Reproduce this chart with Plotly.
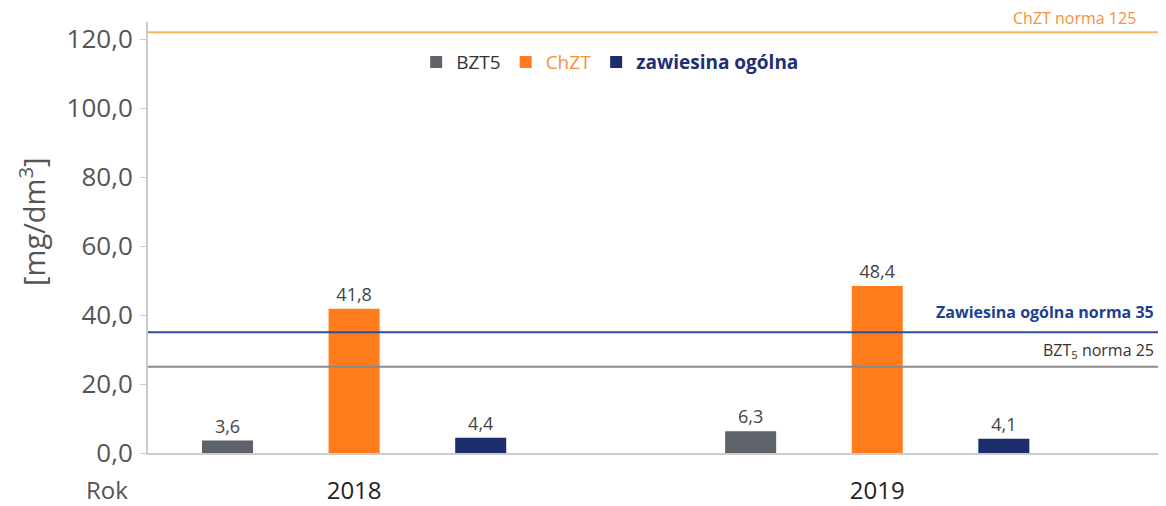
import plotly.graph_objects as go

years = ["2018", "2019"]
bzt5 = [3.6, 6.3]
chzt = [41.8, 48.4]
zawiesina = [4.4, 4.1]

norm_values = [122, 35, 25]
norm_labels = ["ChZT norma 125", "<b>Zawiesina ogólna norma 35</b>", "BZT<sub>5</sub> norma 25"]
norm_colors = ["#f5b45a", "#2e4d9e", "#8a8a8a"]
norm_text_colors = ["#f7913a", "#1f3f8f", "#333333"]
norm_label_x = [0.9725, 0.990, 0.990]
norm_label_shift = [1, 7, 3]

y_ticks = [0, 20, 40, 60, 80, 100, 120]

FONT = "Open Sans"

fig = go.Figure()
series = [
    (bzt5, "#5e636a", "<span style='color:#333'>BZT5</span>"),
    (chzt, "#ff7b1c", "<span style='color:#f7913a'>ChZT</span>"),
    (zawiesina, "#1b2d6b", "<span style='color:#1f3070'><b>zawiesina ogólna</b></span>"),
]
for vals, col, nm in series:
    fig.add_trace(go.Bar(
        x=years, y=vals, name=nm, marker=dict(color=col, line=dict(width=0)),
        text=vals, texttemplate="%{y:.1f}", textposition="outside",
        textfont=dict(size=18, color="#444", family=FONT), cliponaxis=False,
    ))

for v, lab, c, tc, lx, ls in zip(norm_values, norm_labels, norm_colors, norm_text_colors,
                                 norm_label_x, norm_label_shift):
    fig.add_shape(type="line", xref="paper", x0=0, x1=1, yref="y", y0=v, y1=v,
                  line=dict(color=c, width=2), layer="above")
    fig.add_annotation(xref="paper", x=lx, yref="y", y=v, text=lab, showarrow=False,
                       xanchor="right", yanchor="bottom", yshift=ls,
                       font=dict(size=16, color=tc, family=FONT))

fig.add_annotation(xref="paper", x=-0.018, yref="paper", y=0, yshift=-36, text="Rok",
                   showarrow=False, xanchor="right", yanchor="middle",
                   font=dict(size=24, color="#555", family=FONT))

fig.add_annotation(xref="paper", x=-0.114, yref="paper", y=0.536, text="[mg/dm<sup>3</sup>]",
                   showarrow=False, textangle=-90, xanchor="center", yanchor="middle",
                   borderpad=0, font=dict(size=29, color="#555", family=FONT))

fig.update_layout(
    width=1158, height=498,
    margin=dict(l=140, r=0, t=14, b=53, autoexpand=False),
    plot_bgcolor="white", paper_bgcolor="white",
    barmode="group", bargap=0.274, bargroupgap=0.597,
    separators=",.",
    font=dict(family=FONT, color="#555"),
    showlegend=True,
    legend=dict(orientation="h", x=0.454, xanchor="center", y=0.907, yanchor="middle",
                font=dict(size=19, family=FONT), itemwidth=30, tracegroupgap=0,
                bgcolor="rgba(0,0,0,0)"),
    xaxis=dict(type="category", range=[-0.394, 1.552], showline=True, linecolor="#cccccc",
               linewidth=2, ticks="outside", ticklen=15, tickcolor="rgba(0,0,0,0)",
               tickfont=dict(size=24, color="#222", family=FONT), showgrid=False,
               automargin=False),
    yaxis=dict(range=[0, 125], tickvals=y_ticks, tickformat=".1f", showline=True,
               linecolor="#cccccc", linewidth=2, ticks="outside", ticklen=6,
               tickcolor="#cccccc", ticklabelstandoff=2,
               tickfont=dict(size=26, color="#555", family=FONT), showgrid=False,
               zeroline=False, automargin=False),
)

fig.write_html("out.html")
